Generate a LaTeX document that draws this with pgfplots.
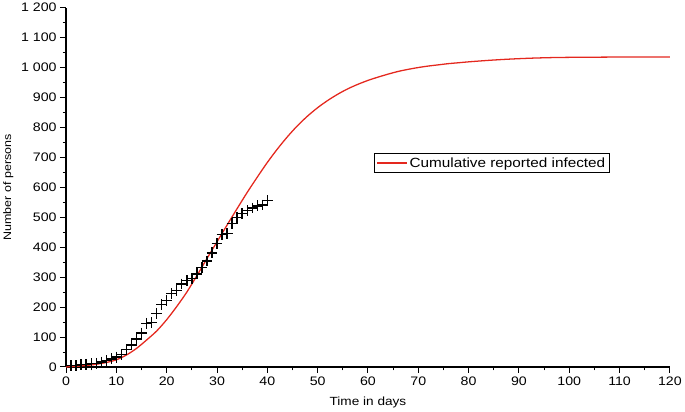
\documentclass[border=0pt]{standalone}
\usepackage{pgfplots}
\pgfplotsset{compat=1.18}
\usepackage{fontspec}
\setmainfont{Liberation Sans}[FakeStretch=1.15]
\definecolor{curvered}{RGB}{228,40,30}
\begin{document}
\begin{tikzpicture}[x=1bp,y=1bp]
\begin{axis}[
  scale only axis,
  width=610bp, height=363bp,
  xmin=0, xmax=120, ymin=0, ymax=1200,
  axis lines*=left,
  axis line style={line width=1.3pt},
  xtick={0,10,...,120}, ytick={0,100,...,1200},
  minor x tick num=1, minor y tick num=1,
  tick align=outside,
  major tick length=6bp, minor tick length=3.5bp,
  tick style={line width=1pt, black},
  /pgf/number format/assume math mode=true,
  /pgf/number format/1000 sep={\ },
  ticklabel style={font=\fontsize{12.5}{14}\selectfont},
  xlabel={Time in days},
  ylabel={Number of persons},
  xlabel style={font=\fontsize{12}{14}\selectfont, yshift=-5bp},
  ylabel style={font=\fontsize{11}{13}\selectfont, yshift=1bp},
  legend style={at={(0.51,0.595)}, anchor=north west, draw=black, line width=0.8pt,
    font=\fontsize{13.5}{15}\selectfont, inner sep=2pt, row sep=0pt},
  legend cell align=left,
  legend image code/.code={\draw[#1, line width=1.5pt] (0bp,0bp) -- (30bp,0bp);},
  clip=false,
]
\addplot[black, only marks, mark=+, mark size=5.5bp, line width=1.4pt, forget plot] coordinates {
(1,5) (2,5) (3,8) (4,9) (5,11) (6,12) (7,16) (8,21) (9,27) (10,33)
(11,41) (12,58) (13,74) (14,93) (15,113) (16,146) (17,148) (18,179) (19,208) (20,223)
(21,245) (22,255) (23,277) (24,288) (25,295) (26,311) (27,333) (28,354) (29,381) (30,412)
(31,442) (32,445) (33,480) (34,500) (35,513) (36,522) (37,531) (38,538) (39,541) (40,555)
};
\addplot[curvered, line width=1.3pt, smooth] coordinates {
(0,0) (2,2) (4,5) (6,9) (8,15) (10,24) (12,40) (14,62) (16,90) (18,120) (20,158)
(22,202) (24,250) (26,305) (28,362) (30,418) (32,474) (34,529) (36,583) (38,634)
(40,683) (42,728) (44,769) (46,806) (48,838) (50,866) (52,890) (54,911) (56,929)
(58,944) (60,957) (62,968) (64,978) (66,987) (68,994) (70,1000) (72,1005) (74,1009)
(76,1013) (78,1016) (80,1019) (84,1024) (88,1028) (92,1031) (96,1033) (100,1034)
(110,1035) (120,1035)
};
\addlegendentry{Cumulative reported infected}
\end{axis}
\end{tikzpicture}
\end{document}
